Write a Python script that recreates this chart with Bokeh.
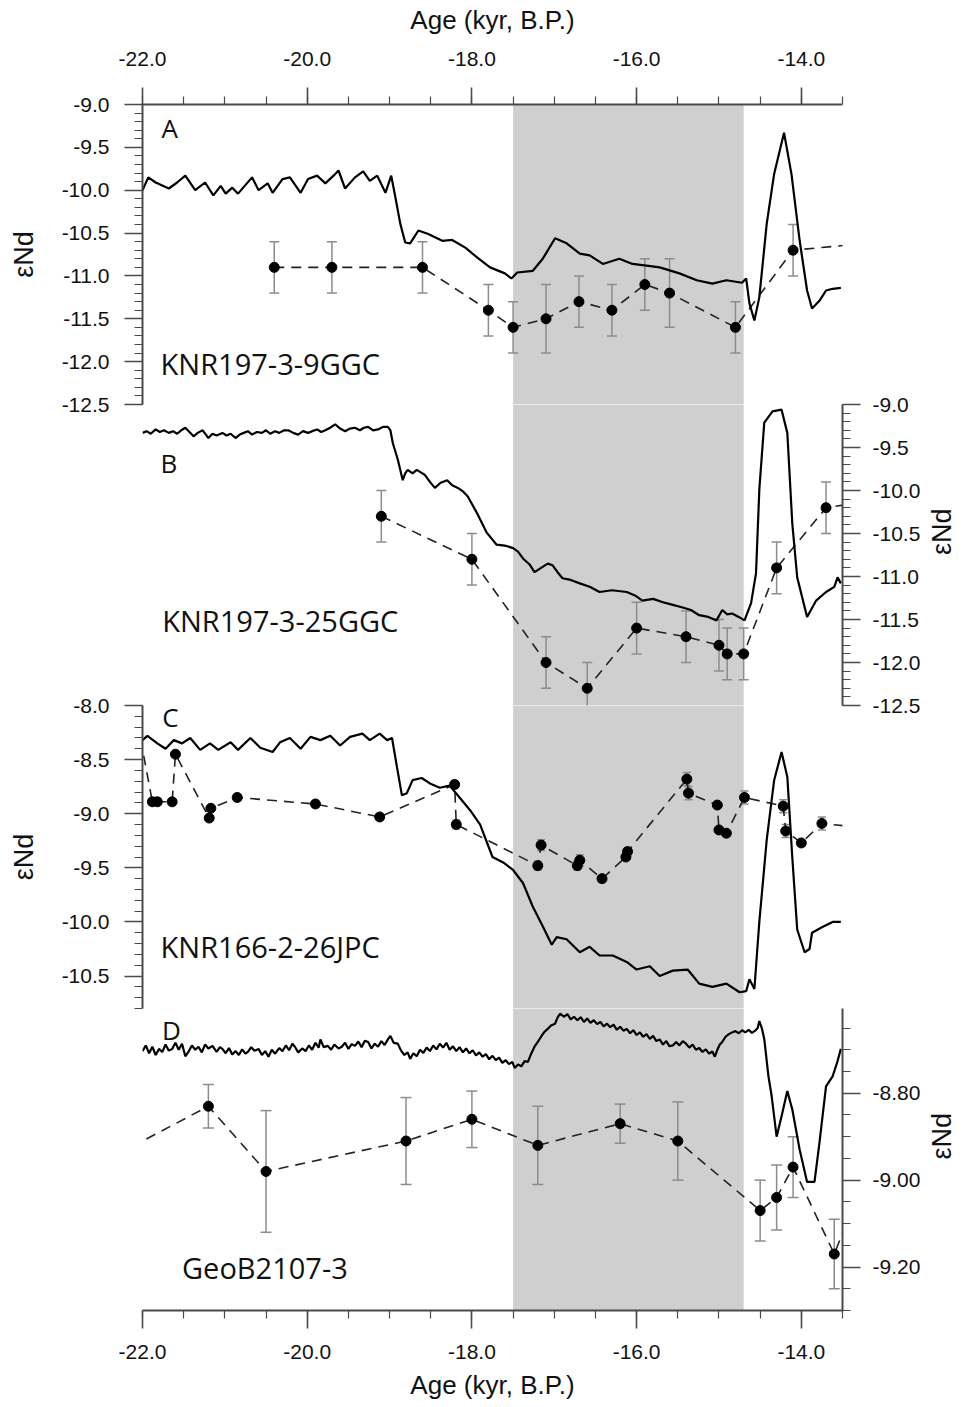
import math
from bokeh.plotting import figure
from bokeh.models import (Range1d, LinearAxis, SingleIntervalTicker, PrintfTickFormatter,
                          BoxAnnotation, Label, Whisker, TeeHead, ColumnDataSource)
from bokeh.layouts import column
from bokeh.embed import file_html
from bokeh.resources import INLINE

# ---------------- data ----------------
shade_start, shade_end = -17.5, -14.7

# Panel A (KNR197-3-9GGC) model curve
a_line_x = [-22.00, -21.93, -21.84, -21.68, -21.58, -21.48, -21.36, -21.24, -21.14, -21.05,
            -20.99, -20.91, -20.84, -20.67, -20.59, -20.48, -20.42, -20.30, -20.21, -20.08,
            -19.99, -19.88, -19.78, -19.68, -19.62, -19.54, -19.42, -19.32, -19.24, -19.15,
            -19.05, -18.98, -18.93, -18.87, -18.81, -18.75, -18.65, -18.53, -18.36, -18.24,
            -18.08, -17.93, -17.78, -17.60, -17.52, -17.45, -17.26, -17.14, -16.99, -16.85,
            -16.69, -16.57, -16.41, -16.21, -16.05, -15.88, -15.72, -15.48, -15.27, -15.08,
            -14.91, -14.72, -14.67, -14.63, -14.57, -14.51, -14.42, -14.33, -14.21, -14.12,
            -14.02, -13.93, -13.87, -13.78, -13.70, -13.62, -13.52]
a_line_y = [-10.00, -9.85, -9.91, -9.98, -9.91, -9.83, -10.00, -9.91, -10.06, -9.95,
            -10.04, -9.97, -10.04, -9.85, -10.00, -9.92, -10.03, -9.87, -9.85, -10.03,
            -9.87, -9.83, -9.92, -9.83, -9.77, -9.98, -9.85, -9.78, -9.89, -9.83,
            -10.03, -9.83, -10.08, -10.39, -10.61, -10.62, -10.47, -10.51, -10.59, -10.58,
            -10.67, -10.79, -10.90, -10.97, -11.03, -10.96, -10.94, -10.80, -10.56, -10.62,
            -10.74, -10.76, -10.86, -10.80, -10.86, -10.88, -10.90, -10.97, -11.05, -11.09,
            -11.05, -11.08, -11.03, -11.32, -11.52, -11.25, -10.39, -9.81, -9.33, -9.81,
            -10.59, -11.17, -11.38, -11.29, -11.17, -11.15, -11.14]
# Panel A measurements
a_pt_x = [-20.4, -19.7, -18.6, -17.8, -17.5, -17.1, -16.7, -16.3, -15.9, -15.6, -14.8, -14.1, -13.0]
a_pt_y = [-10.9, -10.9, -10.9, -11.4, -11.6, -11.5, -11.3, -11.4, -11.1, -11.2, -11.6, -10.7, -10.6]
a_pt_err = [0.3, 0.3, 0.3, 0.3, 0.3, 0.4, 0.3, 0.3, 0.3, 0.4, 0.3, 0.3, 0.3]

# Panel B (KNR197-3-25GGC)
b_line_x = [-22.00, -21.95, -21.90, -21.84, -21.79, -21.74, -21.68, -21.63, -21.58, -21.53,
            -21.48, -21.43, -21.38, -21.33, -21.27, -21.23, -21.20, -21.15, -21.10, -21.03,
            -20.98, -20.93, -20.87, -20.82, -20.77, -20.72, -20.67, -20.61, -20.55, -20.50,
            -20.45, -20.39, -20.34, -20.28, -20.23, -20.17, -20.11, -20.05, -19.99, -19.94,
            -19.88, -19.83, -19.78, -19.72, -19.66, -19.60, -19.54, -19.48, -19.42, -19.36,
            -19.31, -19.26, -19.20, -19.14, -19.08, -19.02, -18.99, -18.96, -18.90, -18.84,
            -18.81, -18.78, -18.72, -18.67, -18.62, -18.57, -18.51, -18.45, -18.38, -18.30,
            -18.24, -18.17, -18.11, -18.05, -17.94, -17.82, -17.70, -17.60, -17.50, -17.44,
            -17.38, -17.30, -17.24, -17.16, -17.08, -17.02, -16.96, -16.90, -16.80, -16.69,
            -16.57, -16.45, -16.30, -16.12, -16.02, -15.93, -15.80, -15.68, -15.56, -15.44,
            -15.34, -15.24, -15.13, -15.03, -14.96, -14.90, -14.84, -14.76, -14.69, -14.61,
            -14.55, -14.51, -14.45, -14.35, -14.24, -14.17, -14.11, -14.05, -13.93, -13.82,
            -13.70, -13.60, -13.56, -13.52]
b_line_y = [-9.33, -9.31, -9.34, -9.29, -9.32, -9.30, -9.33, -9.31, -9.34, -9.30,
            -9.27, -9.32, -9.37, -9.33, -9.30, -9.35, -9.39, -9.34, -9.36, -9.33,
            -9.36, -9.34, -9.39, -9.35, -9.33, -9.31, -9.35, -9.32, -9.33, -9.30,
            -9.34, -9.31, -9.33, -9.30, -9.30, -9.33, -9.35, -9.31, -9.33, -9.31,
            -9.29, -9.32, -9.30, -9.27, -9.23, -9.28, -9.31, -9.28, -9.27, -9.30,
            -9.27, -9.26, -9.30, -9.29, -9.26, -9.26, -9.30, -9.45, -9.64, -9.88,
            -9.80, -9.76, -9.80, -9.76, -9.79, -9.82, -9.90, -9.97, -9.91, -9.88,
            -9.94, -9.97, -10.01, -10.07, -10.26, -10.49, -10.63, -10.64, -10.67, -10.71,
            -10.79, -10.86, -10.95, -10.90, -10.85, -10.87, -10.95, -11.02, -11.04, -11.08,
            -11.12, -11.18, -11.16, -11.18, -11.22, -11.28, -11.26, -11.30, -11.33, -11.36,
            -11.39, -11.45, -11.47, -11.51, -11.39, -11.44, -11.43, -11.47, -11.51, -11.31,
            -10.96, -9.99, -9.21, -9.08, -9.06, -9.33, -10.38, -11.01, -11.47, -11.28,
            -11.18, -11.12, -11.01, -11.08]
b_pt_x = [-19.1, -18.0, -17.1, -16.6, -16.0, -15.4, -15.0, -14.9, -14.7, -14.3, -13.7, -13.0]
b_pt_y = [-10.3, -10.8, -12.0, -12.3, -11.6, -11.7, -11.8, -11.9, -11.9, -10.9, -10.2, -10.1]
b_pt_err = [0.3] * 12

# Panel C (KNR166-2-26JPC)
c_line_x = [-22.00, -21.94, -21.82, -21.72, -21.62, -21.52, -21.42, -21.30, -21.18, -21.08,
            -20.93, -20.84, -20.69, -20.57, -20.42, -20.33, -20.21, -20.08, -19.96, -19.84,
            -19.72, -19.60, -19.48, -19.33, -19.24, -19.12, -19.03, -18.97, -18.91, -18.85,
            -18.79, -18.72, -18.61, -18.51, -18.39, -18.27, -18.15, -18.02, -17.90, -17.75,
            -17.62, -17.50, -17.38, -17.26, -17.14, -17.03, -16.97, -16.85, -16.69, -16.57,
            -16.45, -16.29, -16.12, -16.00, -15.84, -15.72, -15.56, -15.38, -15.24, -15.08,
            -14.91, -14.75, -14.67, -14.63, -14.57, -14.51, -14.42, -14.33, -14.24, -14.17,
            -14.11, -14.05, -13.96, -13.90, -13.87, -13.75, -13.62, -13.52]
c_line_y = [-8.32, -8.28, -8.35, -8.40, -8.32, -8.35, -8.30, -8.41, -8.35, -8.41,
            -8.34, -8.41, -8.30, -8.39, -8.43, -8.34, -8.30, -8.40, -8.29, -8.32,
            -8.28, -8.37, -8.29, -8.26, -8.32, -8.26, -8.32, -8.30, -8.57, -8.83,
            -8.81, -8.69, -8.67, -8.72, -8.76, -8.74, -8.85, -8.97, -9.10, -9.40,
            -9.45, -9.52, -9.64, -9.86, -10.04, -10.21, -10.14, -10.16, -10.28, -10.23,
            -10.31, -10.31, -10.37, -10.44, -10.41, -10.50, -10.45, -10.44, -10.57, -10.60,
            -10.57, -10.65, -10.64, -10.53, -10.62, -10.00, -9.24, -8.69, -8.43, -8.66,
            -9.40, -10.07, -10.28, -10.25, -10.10, -10.05, -10.00, -10.00]
c_pt_x = [-22.10, -21.88, -21.82, -21.64, -21.60, -21.19, -21.17, -20.85, -19.90, -19.12,
          -18.21, -18.19, -17.20, -17.16, -16.72, -16.69, -16.42, -16.13, -16.11, -15.39,
          -15.37, -15.02, -15.00, -14.91, -14.69, -14.22, -14.19, -14.00, -13.75, -13.00]
c_pt_y = [-8.00, -8.89, -8.89, -8.89, -8.45, -9.04, -8.95, -8.85, -8.91, -9.03,
          -8.73, -9.10, -9.48, -9.29, -9.48, -9.43, -9.60, -9.40, -9.35, -8.68,
          -8.81, -8.92, -9.15, -9.18, -8.85, -8.93, -9.16, -9.27, -9.09, -9.15]
c_pt_err = [0.03, 0.03, 0.03, 0.02, 0.02, 0.02, 0.02, 0.03, 0.03, 0.03,
            0.03, 0.04, 0.04, 0.05, 0.04, 0.05, 0.03, 0.03, 0.03, 0.06,
            0.06, 0.02, 0.02, 0.03, 0.06, 0.06, 0.06, 0.03, 0.06, 0.03]

# Panel D (GeoB2107-3)
d_line_x = [-22.00, -21.96, -21.92, -21.88, -21.84, -21.80, -21.76, -21.72, -21.68, -21.64,
            -21.60, -21.56, -21.52, -21.48, -21.44, -21.40, -21.36, -21.32, -21.28, -21.24,
            -21.20, -21.15, -21.10, -21.06, -21.03, -20.99, -20.95, -20.91, -20.87, -20.83,
            -20.79, -20.75, -20.72, -20.68, -20.64, -20.59, -20.55, -20.51, -20.47, -20.43,
            -20.39, -20.34, -20.30, -20.26, -20.22, -20.18, -20.15, -20.11, -20.06, -20.02,
            -19.98, -19.94, -19.90, -19.86, -19.84, -19.80, -19.75, -19.71, -19.67, -19.62,
            -19.58, -19.54, -19.50, -19.46, -19.42, -19.38, -19.34, -19.30, -19.26, -19.22,
            -19.18, -19.14, -19.10, -19.06, -19.02, -18.99, -18.95, -18.90, -18.86, -18.82,
            -18.78, -18.75, -18.71, -18.67, -18.63, -18.59, -18.55, -18.51, -18.47, -18.43,
            -18.39, -18.35, -18.31, -18.27, -18.23, -18.19, -18.15, -18.11, -18.07, -18.03,
            -17.99, -17.95, -17.91, -17.87, -17.83, -17.79, -17.75, -17.71, -17.67, -17.63,
            -17.59, -17.55, -17.51, -17.48, -17.44, -17.40, -17.36, -17.32, -17.28, -17.24,
            -17.20, -17.16, -17.12, -17.08, -17.04, -16.99, -16.96, -16.93, -16.88, -16.84,
            -16.80, -16.76, -16.72, -16.68, -16.64, -16.60, -16.56, -16.52, -16.48, -16.44,
            -16.40, -16.36, -16.32, -16.28, -16.24, -16.20, -16.16, -16.12, -16.08, -16.04,
            -16.00, -15.96, -15.92, -15.88, -15.84, -15.80, -15.76, -15.72, -15.68, -15.64,
            -15.60, -15.56, -15.52, -15.48, -15.44, -15.40, -15.36, -15.32, -15.28, -15.24,
            -15.20, -15.16, -15.12, -15.08, -15.05, -15.02, -14.99, -14.96, -14.92, -14.88,
            -14.84, -14.80, -14.76, -14.72, -14.68, -14.64, -14.60, -14.56, -14.53, -14.51,
            -14.48, -14.45, -14.40, -14.36, -14.30, -14.24, -14.17, -14.11, -14.02, -13.93,
            -13.84, -13.78, -13.70, -13.62, -13.56, -13.52]
d_line_y = [-8.703, -8.690, -8.708, -8.693, -8.712, -8.698, -8.705, -8.688, -8.702, -8.698,
            -8.684, -8.700, -8.686, -8.715, -8.704, -8.690, -8.700, -8.693, -8.706, -8.688,
            -8.697, -8.691, -8.705, -8.694, -8.698, -8.708, -8.696, -8.711, -8.703, -8.712,
            -8.699, -8.709, -8.705, -8.694, -8.702, -8.698, -8.712, -8.703, -8.716, -8.700,
            -8.709, -8.696, -8.703, -8.690, -8.701, -8.686, -8.693, -8.706, -8.697, -8.703,
            -8.690, -8.700, -8.684, -8.695, -8.676, -8.694, -8.691, -8.700, -8.688, -8.697,
            -8.693, -8.684, -8.698, -8.687, -8.691, -8.681, -8.694, -8.679, -8.682, -8.697,
            -8.686, -8.693, -8.680, -8.689, -8.676, -8.668, -8.684, -8.686, -8.702, -8.712,
            -8.706, -8.721, -8.708, -8.715, -8.700, -8.707, -8.695, -8.703, -8.690, -8.699,
            -8.686, -8.695, -8.684, -8.700, -8.692, -8.703, -8.694, -8.706, -8.697, -8.708,
            -8.701, -8.713, -8.706, -8.716, -8.710, -8.722, -8.714, -8.724, -8.718, -8.730,
            -8.724, -8.733, -8.728, -8.742, -8.734, -8.738, -8.726, -8.728, -8.709, -8.693,
            -8.682, -8.670, -8.659, -8.652, -8.644, -8.640, -8.626, -8.617, -8.624, -8.618,
            -8.630, -8.624, -8.632, -8.625, -8.636, -8.628, -8.638, -8.632, -8.641, -8.636,
            -8.646, -8.640, -8.648, -8.642, -8.654, -8.647, -8.656, -8.652, -8.662, -8.655,
            -8.666, -8.660, -8.670, -8.664, -8.675, -8.668, -8.680, -8.676, -8.688, -8.680,
            -8.692, -8.690, -8.682, -8.690, -8.680, -8.686, -8.695, -8.688, -8.700, -8.696,
            -8.705, -8.699, -8.709, -8.704, -8.716, -8.700, -8.688, -8.682, -8.670, -8.664,
            -8.660, -8.657, -8.662, -8.655, -8.660, -8.654, -8.661, -8.656, -8.650, -8.634,
            -8.650, -8.675, -8.760, -8.807, -8.900, -8.853, -8.795, -8.837, -8.930, -9.004,
            -9.004, -8.914, -8.784, -8.761, -8.726, -8.698]
d_pt_x = [-22.5, -21.2, -20.5, -18.8, -18.0, -17.2, -16.2, -15.5, -14.5, -14.3, -14.1, -13.6, -13.2]
d_pt_y = [-8.96, -8.83, -8.98, -8.91, -8.86, -8.92, -8.87, -8.91, -9.07, -9.04, -8.97, -9.17, -8.98]
d_pt_err = [0.05, 0.05, 0.14, 0.10, 0.065, 0.09, 0.045, 0.09, 0.07, 0.075, 0.07, 0.08, 0.08]

# ---------------- styling ----------------
X_START, X_END = -22.0, -13.5
AX_COLOR = "#4a4a4a"
TICK_FONT = "Liberation Sans"
TICK_SIZE = "21px"
NAME_FONT = "Open Sans"
YLAB_SIZE = "27px"
SHADE = "#cfcfcf"
ERR_COLOR = "#8c8c8c"


def style_axis(ax, label=None, label_size="24px"):
    ax.axis_line_color = AX_COLOR
    ax.axis_line_width = 2
    ax.major_tick_line_color = AX_COLOR
    ax.major_tick_line_width = 1.6
    ax.minor_tick_line_color = AX_COLOR
    ax.minor_tick_line_width = 1.2
    ax.major_tick_in = 0
    ax.major_tick_out = 18
    ax.minor_tick_in = 0
    ax.minor_tick_out = 8
    ax.major_label_text_font = TICK_FONT
    ax.major_label_text_font_size = TICK_SIZE
    ax.major_label_text_color = "#111111"
    if label is not None:
        ax.axis_label = label
        ax.axis_label_text_font = TICK_FONT
        ax.axis_label_text_font_size = label_size
        ax.axis_label_text_font_style = "normal"
        ax.axis_label_text_color = "#111111"


def make_panel(y_start, y_end, frame_height, top, bottom, right):
    p = figure(frame_width=700, frame_height=frame_height,
               x_range=Range1d(X_START, X_END), y_range=Range1d(y_start, y_end),
               output_backend="svg", toolbar_location=None,
               x_axis_location=None, y_axis_location=None,
               min_border_left=142, min_border_right=right,
               min_border_top=top, min_border_bottom=bottom,
               background_fill_alpha=0, border_fill_alpha=0,
               outline_line_color=None)
    p.grid.visible = False
    p.add_layout(BoxAnnotation(left=shade_start, right=shade_end, fill_color=SHADE,
                               fill_alpha=1.0, line_color=None, level="underlay"))
    return p


def y_axis(p, side, interval, n_minor, fmt):
    ax = LinearAxis(ticker=SingleIntervalTicker(interval=interval, num_minor_ticks=n_minor),
                    formatter=PrintfTickFormatter(format=fmt))
    style_axis(ax, "εNd", YLAB_SIZE)
    if side == "left":
        ax.major_label_standoff = 15
        ax.axis_label_standoff = 20
    else:
        ax.major_label_standoff = 12
        ax.axis_label_standoff = 19
        # read bottom-to-top, as on the left-hand axes
        try:
            ax.axis_label_orientation = math.pi / 2
        except Exception:
            pass
    p.add_layout(ax, side)
    return ax


def x_axis(p, side):
    ax = LinearAxis(ticker=SingleIntervalTicker(interval=2.0, num_minor_ticks=4),
                    formatter=PrintfTickFormatter(format="%.1f"))
    style_axis(ax, "Age (kyr, B.P.)", "26px")
    p.add_layout(ax, side)
    return ax


def add_series(p, lx, ly, px_, py_, pe, cap):
    lo, hi = p.x_range.start, p.x_range.end
    inside = [i for i, v in enumerate(px_) if lo <= v <= hi]
    src = ColumnDataSource(dict(
        x=[px_[i] for i in inside],
        y=[py_[i] for i in inside],
        upper=[py_[i] + pe[i] for i in inside],
        lower=[py_[i] - pe[i] for i in inside]))
    p.add_layout(Whisker(base="x", upper="upper", lower="lower", source=src,
                         line_color=ERR_COLOR, line_width=1.5, level="underlay",
                         upper_head=TeeHead(size=cap, line_color=ERR_COLOR, line_width=1.5),
                         lower_head=TeeHead(size=cap, line_color=ERR_COLOR, line_width=1.5)))
    p.line(px_, py_, line_color="#222222", line_width=1.6, line_dash="10 7")
    p.line(lx, ly, line_color="black", line_width=2.2)
    p.scatter("x", "y", source=src, size=10, color="black")


def add_text(p, x, y, txt, size, align="left"):
    p.add_layout(Label(x=x, y=y, text=txt, text_font=NAME_FONT, text_font_size=size,
                       text_align=align, text_baseline="middle", text_color="#111111"))


# ---------------- panel A ----------------
pA = make_panel(-12.5, -9.0, 300, 104, 14, 6)
axA = x_axis(pA, "above")
axA.major_tick_out = 17
axA.major_label_standoff = 22
axA.axis_label_standoff = 14
y_axis(pA, "left", 0.5, 5, "%.1f")
add_series(pA, a_line_x, a_line_y, a_pt_x, a_pt_y, a_pt_err, 10)
add_text(pA, -21.67, -9.27, "A", "26px", "center")
add_text(pA, -21.78, -12.02, "KNR197-3-9GGC", "29px")

# ---------------- panel B ----------------
pB = make_panel(-12.5, -9.0, 301, 14, 14, 6)
y_axis(pB, "right", 0.5, 5, "%.1f")
add_series(pB, b_line_x, b_line_y, b_pt_x, b_pt_y, b_pt_err, 10)
add_text(pB, -21.68, -9.68, "B", "26px", "center")
add_text(pB, -21.76, -11.51, "KNR197-3-25GGC", "29px")
pB.margin = (-28, 0, 0, 0)

# ---------------- panel C ----------------
pC = make_panel(-10.8, -8.0, 303, 14, 14, 6)
y_axis(pC, "left", 0.5, 5, "%.1f")
add_series(pC, c_line_x, c_line_y, c_pt_x, c_pt_y, c_pt_err, 8)
add_text(pC, -21.66, -8.11, "C", "26px", "center")
add_text(pC, -21.78, -10.23, "KNR166-2-26JPC", "29px")
pC.margin = (-28, 0, 0, 0)

# ---------------- panel D ----------------
pD = make_panel(-9.30, -8.605, 302, 14, 0, 6)
y_axis(pD, "right", 0.2, 4, "%.2f")
axD = x_axis(pD, "below")
axD.major_label_standoff = 16
axD.axis_label_standoff = 8
add_series(pD, d_line_x, d_line_y, d_pt_x, d_pt_y, d_pt_err, 11)
add_text(pD, -21.65, -8.654, "D", "26px", "center")
add_text(pD, -21.52, -9.20, "GeoB2107-3", "29px")
pD.margin = (-28, 0, 0, 0)

layout = column(pA, pB, pC, pD)

with open("out.html", "w", encoding="utf-8") as f:
    f.write(file_html(layout, INLINE))
